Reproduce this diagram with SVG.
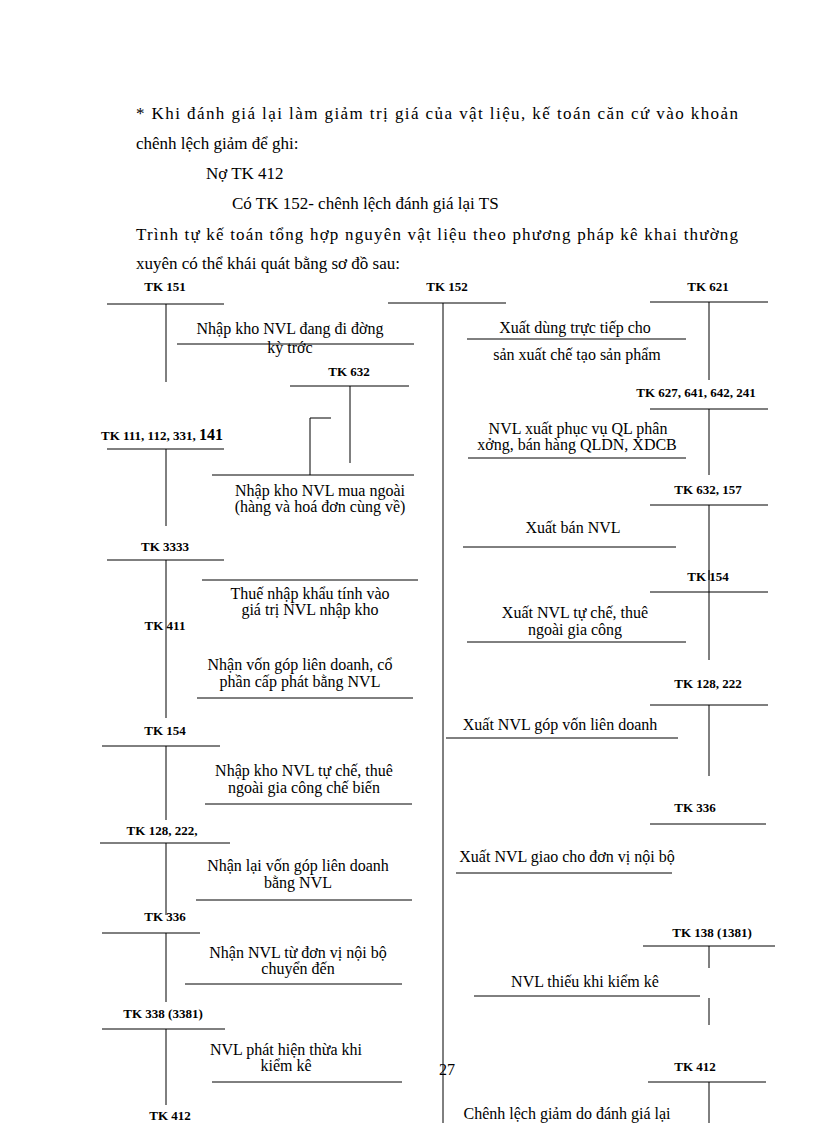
<svg xmlns="http://www.w3.org/2000/svg" width="816" height="1123" viewBox="0 0 816 1123">
<style>
.p{font-family:"Liberation Serif",serif;font-size:17px;fill:#000}
.t{font-family:"Liberation Serif",serif;font-size:13px;font-weight:bold;fill:#000;text-anchor:middle}
.s{text-anchor:start}
.d{font-family:"Liberation Serif",serif;font-size:16px;fill:#000;text-anchor:middle}
line,polyline{stroke:#000;stroke-width:1;fill:none}
</style>
<rect width="816" height="1123" fill="#fff"/>
<g id="intro">
<text class="p" x="136" y="119" textLength="602" lengthAdjust="spacing">* Khi đánh giá lại làm giảm trị giá của vật liệu, kế toán căn cứ vào khoản</text>
<text class="p" x="136" y="149">chênh lệch giảm để ghi:</text>
<text class="p" x="206" y="179">Nợ TK 412</text>
<text class="p" x="232" y="209">Có TK 152- chênh lệch đánh giá lại TS</text>
<text class="p" x="136" y="240" textLength="602" lengthAdjust="spacing">Trình tự kế toán tổng hợp nguyên vật liệu theo phương pháp kê khai thường</text>
<text class="p" x="136" y="269">xuyên có thể khái quát bằng sơ đồ sau:</text>
</g>
<g id="tk152"><text class="t" x="447" y="291">TK 152</text><line x1="388" y1="303" x2="506" y2="303"/><line x1="443" y1="303" x2="443" y2="1123"/></g>
<g id="tk151"><text class="t" x="165" y="291">TK 151</text><line x1="107" y1="304" x2="224" y2="304"/><line x1="166" y1="304" x2="166" y2="382"/></g>
<g id="tk632L"><text class="t" x="349" y="376">TK 632</text><line x1="290" y1="386" x2="409" y2="386"/><line x1="350" y1="386" x2="350" y2="463"/></g>
<g id="tk111"><text class="t s" x="101" y="440">TK 111, 112, 331, <tspan font-size="16">141</tspan></text><line x1="107" y1="449" x2="224" y2="449"/><line x1="166" y1="449" x2="166" y2="526"/></g>
<g id="tk3333"><text class="t" x="165" y="551">TK 3333</text><line x1="107" y1="560" x2="224" y2="560"/><line x1="166" y1="560" x2="166" y2="718"/></g>
<g id="tk411"><text class="t" x="165" y="630">TK 411</text></g>
<g id="tk154L"><text class="t" x="165" y="735">TK 154</text><line x1="102" y1="746" x2="220" y2="746"/><line x1="166" y1="746" x2="166" y2="820"/></g>
<g id="tk128L"><text class="t" x="162" y="835">TK 128, 222,</text><line x1="100" y1="843" x2="230" y2="843"/><line x1="166" y1="843" x2="166" y2="915"/></g>
<g id="tk336L"><text class="t" x="165" y="921">TK 336</text><line x1="102" y1="933" x2="200" y2="933"/><line x1="166" y1="933" x2="166" y2="1002"/></g>
<g id="tk338"><text class="t" x="163" y="1018">TK 338 (3381)</text><line x1="102" y1="1029" x2="225" y2="1029"/><line x1="166" y1="1029" x2="166" y2="1105"/></g>
<g id="tk412L"><text class="t" x="170" y="1120">TK 412</text></g>
<g id="tk621"><text class="t" x="708" y="291">TK 621</text><line x1="650" y1="302" x2="768" y2="302"/><line x1="709" y1="302" x2="709" y2="380"/></g>
<g id="tk627"><text class="t" x="696" y="397">TK 627, 641, 642,  241</text><line x1="650" y1="409" x2="768" y2="409"/><line x1="709" y1="409" x2="709" y2="475"/></g>
<g id="tk632R"><text class="t" x="708" y="494">TK 632, 157</text><line x1="650" y1="505" x2="768" y2="505"/><line x1="709" y1="505" x2="709" y2="580"/></g>
<g id="tk154R"><text class="t" x="708" y="581">TK 154</text><line x1="650" y1="592" x2="768" y2="592"/><line x1="709" y1="570" x2="709" y2="660"/></g>
<g id="tk128R"><text class="t" x="708" y="688">TK 128, 222</text><line x1="650" y1="705" x2="768" y2="705"/><line x1="709" y1="705" x2="709" y2="776"/></g>
<g id="tk336R"><text class="t" x="695" y="812">TK 336</text><line x1="650" y1="824" x2="766" y2="824"/></g>
<g id="tk138"><text class="t" x="712" y="937">TK 138 (1381)</text><line x1="643" y1="946" x2="775" y2="946"/><line x1="709" y1="946" x2="709" y2="968"/><line x1="709" y1="998" x2="709" y2="1025"/></g>
<g id="tk412R"><text class="t" x="695" y="1071">TK 412</text><line x1="648" y1="1082" x2="766" y2="1082"/><line x1="709" y1="1082" x2="709" y2="1123"/></g>
<g id="connectors">
<line x1="177" y1="344" x2="414" y2="344"/>
<polyline points="331,418 310,418 310,475"/>
<line x1="212" y1="475" x2="414" y2="475"/>
<line x1="202" y1="580" x2="418" y2="580"/>
<line x1="197" y1="698" x2="413" y2="698"/>
<line x1="205" y1="804" x2="412" y2="804"/>
<line x1="196" y1="900" x2="412" y2="900"/>
<line x1="185" y1="984" x2="402" y2="984"/>
<line x1="212" y1="1082" x2="402" y2="1082"/>
<line x1="467" y1="339" x2="686" y2="339"/>
<line x1="468" y1="458" x2="686" y2="458"/>
<line x1="463" y1="547" x2="676" y2="547"/>
<line x1="467" y1="642" x2="686" y2="642"/>
<line x1="446" y1="738" x2="678" y2="738"/>
<line x1="456" y1="873" x2="672" y2="873"/>
<line x1="474" y1="996" x2="700" y2="996"/>
</g>
<g id="labels">
<text class="d" x="290" y="334">Nhập kho NVL đang đi đờng</text>
<text class="d" x="290" y="353">kỳ trớc</text>
<text class="d" x="320" y="496">Nhập kho NVL mua ngoài</text>
<text class="d" x="320" y="512">(hàng và hoá đơn cùng về)</text>
<text class="d" x="310" y="599">Thuế nhập khẩu tính vào</text>
<text class="d" x="310" y="615">giá trị NVL nhập kho</text>
<text class="d" x="300" y="670">Nhận vốn góp liên doanh, cổ</text>
<text class="d" x="300" y="687">phần cấp phát bằng NVL</text>
<text class="d" x="304" y="776">Nhập kho NVL tự chế, thuê</text>
<text class="d" x="304" y="793">ngoài gia công chế biến</text>
<text class="d" x="298" y="871">Nhận lại vốn góp liên doanh</text>
<text class="d" x="298" y="888">bằng NVL</text>
<text class="d" x="298" y="958">Nhận NVL từ đơn vị nội bộ</text>
<text class="d" x="298" y="974">chuyển đến</text>
<text class="d" x="286" y="1055">NVL phát hiện thừa khi</text>
<text class="d" x="286" y="1071">kiểm kê</text>
<text class="d" x="447" y="1075">27</text>
<text class="d" x="575" y="333">Xuất dùng trực tiếp cho</text>
<text class="d" x="577" y="360">sản xuất chế tạo sản phẩm</text>
<text class="d" x="578" y="434">NVL xuất phục vụ QL phân</text>
<text class="d" x="577" y="450">xởng,    bán hàng QLDN, XDCB</text>
<text class="d" x="573" y="533">Xuất bán NVL</text>
<text class="d" x="575" y="618">Xuất NVL tự chế, thuê</text>
<text class="d" x="575" y="635">ngoài gia công</text>
<text class="d" x="560" y="730">Xuất NVL góp vốn liên doanh</text>
<text class="d" x="567" y="862">Xuất NVL giao cho đơn vị nội bộ</text>
<text class="d" x="585" y="987">NVL thiếu khi kiểm kê</text>
<text class="d" x="567" y="1119">Chênh lệch giảm do đánh giá lại</text>
</g>
</svg>
